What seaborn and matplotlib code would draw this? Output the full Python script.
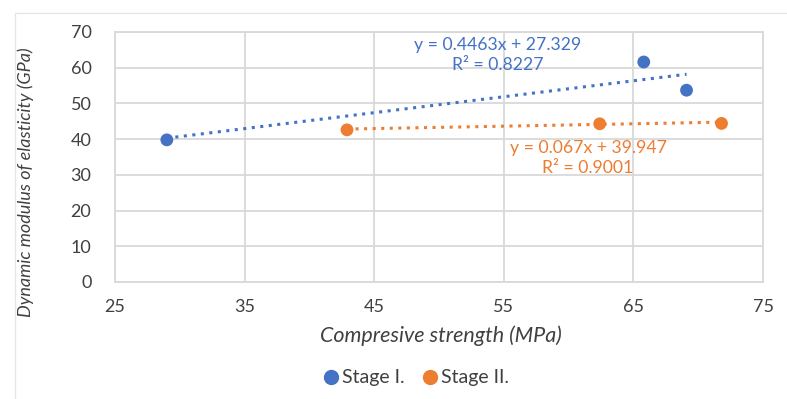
import numpy as np
import pandas as pd
import matplotlib
matplotlib.use('Agg')
import matplotlib.pyplot as plt
import seaborn as sns
from matplotlib.lines import Line2D

# values
stage1_x = [29.0, 65.8, 69.1]
stage1_y = [39.8, 61.6, 53.7]
stage2_x = [42.9, 62.4, 71.8]
stage2_y = [42.6, 44.3, 44.4]
stages = ['Stage I.', 'Stage II.']
slopes = [0.4463, 0.067]
intercepts = [27.329, 39.947]
r2 = [0.8227, 0.9001]
x_ticks = [25, 35, 45, 55, 65, 75]
y_ticks = [0, 10, 20, 30, 40, 50, 60, 70]

colors = ['#4472C4', '#ED7D31']

df = pd.DataFrame({
    'x': stage1_x + stage2_x,
    'y': stage1_y + stage2_y,
    'stage': [stages[0]] * len(stage1_x) + [stages[1]] * len(stage2_x),
})

sns.set_style('white')
plt.rcParams['font.family'] = ['Lato', 'DejaVu Sans']

fig = plt.figure(figsize=(7.87, 3.99), dpi=100)
ax = fig.add_axes([115 / 787, 1 - 282 / 399, 648 / 787, 250 / 399])

# Excel-like trendlines from min x to max x
for xs, m, b, c in zip([stage1_x, stage2_x], slopes, intercepts, colors):
    xx = np.array([min(xs), max(xs)])
    ax.plot(xx, m * xx + b, color=c, lw=2.2, linestyle=(0, (1, 1.8)), zorder=2)

sns.scatterplot(data=df, x='x', y='y', hue='stage', palette=colors, s=85,
                edgecolor='none', legend=False, ax=ax, zorder=3)

ax.set_xlim(25, 75)
ax.set_ylim(0, 70)
ax.set_xticks(x_ticks)
ax.set_yticks(y_ticks)
ax.grid(True, color='#D9D9D9', lw=1.3)
ax.set_axisbelow(True)
for sp in ax.spines.values():
    sp.set_color('#D9D9D9')
    sp.set_linewidth(1.3)
ax.tick_params(axis='both', length=0, labelsize=13, colors='#404040')
ax.tick_params(axis='x', pad=12)
ax.tick_params(axis='y', pad=17)
ax.set_xlabel('')
ax.set_ylabel('')

# equation labels
ax.text(54.5, 66.4, f'y = {slopes[0]}x + {intercepts[0]}', color=colors[0],
        fontsize=12.7, ha='center', va='center')
ax.text(54.5, 60.8, f'R² = {r2[0]}', color=colors[0], fontsize=12.7,
        ha='center', va='center')
ax.text(61.5, 37.6, f'y = {slopes[1]}x + {intercepts[1]}', color=colors[1],
        fontsize=12.7, ha='center', va='center')
ax.text(61.5, 32.0, f'R² = {r2[1]}', color=colors[1], fontsize=12.7,
        ha='center', va='center')

fig.text(441 / 787, 1 - 336 / 399, 'Compresive strength (MPa)', style='italic',
         fontsize=15.5, color='#404040', ha='center', va='center')
fig.text(26 / 787, 1 - 182 / 399, 'Dynamic modulus of elasticity (GPa)',
         style='italic', fontsize=13, color='#404040', rotation=90,
         ha='center', va='center')

handles = [Line2D([], [], marker='o', ls='', color=c, markersize=10) for c in colors]
fig.legend(handles, stages, loc='center', bbox_to_anchor=(416 / 787, 1 - 378 / 399),
           ncol=2, frameon=False, fontsize=14, handletextpad=0.15,
           columnspacing=0.9, handlelength=0.8, labelcolor='#404040')

# chart border (light grey frame)
fig.add_artist(Line2D([15 / 787, 15 / 787], [0, 1 - 13 / 399], color='#E6E6E6', lw=1))
fig.add_artist(Line2D([15 / 787, 1], [1 - 13 / 399, 1 - 13 / 399], color='#E6E6E6', lw=1))

fig.savefig('out.png', dpi=100)
